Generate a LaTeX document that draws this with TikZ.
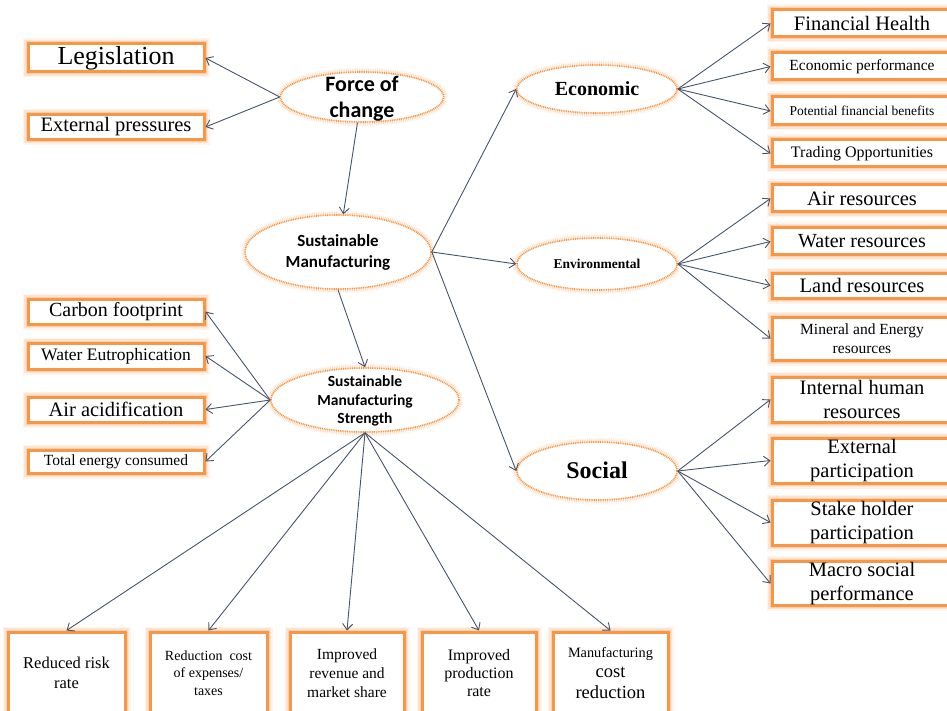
\documentclass[tikz,border=0pt]{standalone}
\usepackage{fontspec}
\setmainfont{Liberation Serif}
\newfontfamily\calib{Carlito}
\usetikzlibrary{arrows.meta,shapes.geometric}
\definecolor{obord}{HTML}{F79646}
\definecolor{oglow}{HTML}{F9B47E}
\definecolor{arr}{HTML}{46546A}
\newcommand\myfs[2]{\fontsize{#1}{#2}\selectfont}
\newcommand\ctxt[1]{\smash{\raisebox{-0.33em}{\begin{tabular}{@{}c@{}}#1\end{tabular}}}}
\tikzset{
  box/.style={rectangle, fill=white, draw=obord, line width=3pt, inner sep=0pt, align=center,
    preaction={draw=oglow, line width=11pt, opacity=0.15},
    preaction={draw=oglow, line width=8pt, opacity=0.25},
    preaction={draw=oglow, line width=5pt, opacity=0.4}},
  ell/.style={ellipse, fill=white, draw=obord, line width=1.6pt, dash pattern=on 1pt off 0.8pt, inner sep=0pt,
    preaction={draw=oglow, line width=9pt, opacity=0.18},
    preaction={draw=oglow, line width=5.5pt, opacity=0.35}},
  ar/.style={draw=arr, line width=0.9pt, -{Straight Barb[length=6pt,width=10pt]}},
}
\begin{document}
\begin{tikzpicture}[x=1pt,y=-1pt]
\useasboundingbox (0,0) rectangle (947,711);
\clip (0,0) rectangle (947,711);
% left top
\node[box, minimum width=176pt, minimum height=28pt, font=\myfs{26}{30}] (leg) at (116,58) {Legislation};
\node[box, minimum width=176pt, minimum height=25pt, font=\myfs{20.5}{24}] (ext) at (116,127) {External pressures};
% ellipses centre column
\node[ell, minimum width=163pt, minimum height=50pt, font=\calib\bfseries\myfs{22}{26}] (force) at (362,97) {\ctxt{Force of\\change}};
\node[ell, minimum width=186pt, minimum height=74pt, font=\calib\bfseries\myfs{17}{21}] (sm) at (338,252) {\ctxt{Sustainable\\Manufacturing}};
\node[ell, minimum width=188pt, minimum height=64pt, font=\calib\bfseries\myfs{15.5}{18.5}] (sms) at (365,400) {\ctxt{Sustainable\\Manufacturing\\Strength}};
% left boxes
\node[box, minimum width=176pt, minimum height=25pt, font=\myfs{20}{24}] (carbon) at (116,311.5) {Carbon footprint};
\node[box, minimum width=176pt, minimum height=26pt, font=\myfs{17.5}{21}] (watereu) at (116,356) {Water Eutrophication};
\node[box, minimum width=176pt, minimum height=25pt, font=\myfs{20.5}{24}] (airac) at (116,409.5) {Air acidification};
\node[box, minimum width=176pt, minimum height=23pt, font=\myfs{15.5}{19}] (total) at (116,461.5) {Total energy consumed};
% category ellipses
\node[ell, minimum width=160pt, minimum height=48pt, font=\bfseries\myfs{20}{24}] (eco) at (597,89) {\ctxt{Economic}};
\node[ell, minimum width=160pt, minimum height=52pt, font=\bfseries\myfs{13.5}{16}] (env) at (597,264) {\ctxt{Environmental}};
\node[ell, minimum width=160pt, minimum height=58pt, font=\bfseries\myfs{24}{28}] (soc) at (597,471) {\ctxt{Social}};
% right boxes
\node[box, minimum width=180pt, minimum height=27pt, font=\myfs{20.5}{24}] (fin) at (862,23.5) {Financial Health};
\node[box, minimum width=180pt, minimum height=27pt, font=\myfs{15.5}{19}] (ecoperf) at (862,66.5) {Economic performance};
\node[box, minimum width=180pt, minimum height=28pt, font=\myfs{13.5}{16}] (pot) at (862,111) {Potential financial benefits};
\node[box, minimum width=180pt, minimum height=27pt, font=\myfs{16}{19}] (trad) at (862,153.5) {Trading Opportunities};
\node[box, minimum width=180pt, minimum height=27pt, font=\myfs{20.5}{24}] (airr) at (862,198.5) {Air resources};
\node[box, minimum width=180pt, minimum height=27pt, font=\myfs{20}{24}] (watr) at (862,241.5) {Water resources};
\node[box, minimum width=180pt, minimum height=25pt, font=\myfs{20.5}{24}] (land) at (862,285.5) {Land resources};
\node[box, minimum width=180pt, minimum height=43pt, font=\myfs{15.5}{19}] (mine) at (862,338.5) {Mineral and Energy\\resources};
\node[box, minimum width=180pt, minimum height=45pt, font=\myfs{20.5}{24.5}] (intl) at (862,399.5) {Internal human\\resources};
\node[box, minimum width=180pt, minimum height=45pt, font=\myfs{20.5}{24.5}] (extp) at (862,460.5) {External\\participation};
\node[box, minimum width=180pt, minimum height=45pt, font=\myfs{20.5}{24.5}] (stake) at (862,522.5) {Stake holder\\participation};
\node[box, minimum width=180pt, minimum height=43pt, font=\myfs{20.5}{24.5}] (macro) at (862,583.5) {Macro social\\performance};
% bottom boxes
\node[box, minimum width=117pt, minimum height=82pt, font=\myfs{16.5}{19.5}] (b1) at (66.5,673) {Reduced risk\\rate};
\node[box, minimum width=117pt, minimum height=82pt, font=\myfs{14}{17.5}] (b2) at (208.5,673) {Reduction\ \ cost\\of expenses/\\taxes};
\node[box, minimum width=114pt, minimum height=82pt, font=\myfs{15.5}{19}] (b3) at (347,673) {Improved\\revenue and\\market share};
\node[box, minimum width=114pt, minimum height=82pt, font=\myfs{16}{18}] (b4) at (479,673) {Improved\\production\\rate};
\node[box, minimum width=115pt, minimum height=82pt, font=\myfs{18.5}{20.5}] (b5) at (610.5,673) {{\myfs{14.3}{20.5}Manufacturing}\\cost\\reduction};
% connectors
\draw[ar] (force.west) -- (leg.east);
\draw[ar] (force.west) -- (ext.east);
\draw[ar] (force.260) -- (sm.82);
\draw[ar] (sm.south) -- (sms.north);
\draw[ar] (sm.east) -- (eco.west);
\draw[ar] (sm.east) -- (env.west);
\draw[ar] (sm.east) -- (soc.west);
\foreach \t in {fin,ecoperf,pot,trad} \draw[ar] (eco.east) -- (\t.west);
\foreach \t in {airr,watr,land,mine} \draw[ar] (env.east) -- (\t.west);
\foreach \t in {intl,extp,stake,macro} \draw[ar] (soc.east) -- (\t.west);
\foreach \t in {carbon,watereu,airac,total} \draw[ar] (sms.west) -- (\t.east);
\foreach \t in {b1,b2,b3,b4,b5} \draw[ar] (sms.south) -- (\t.north);
\end{tikzpicture}
\end{document}
